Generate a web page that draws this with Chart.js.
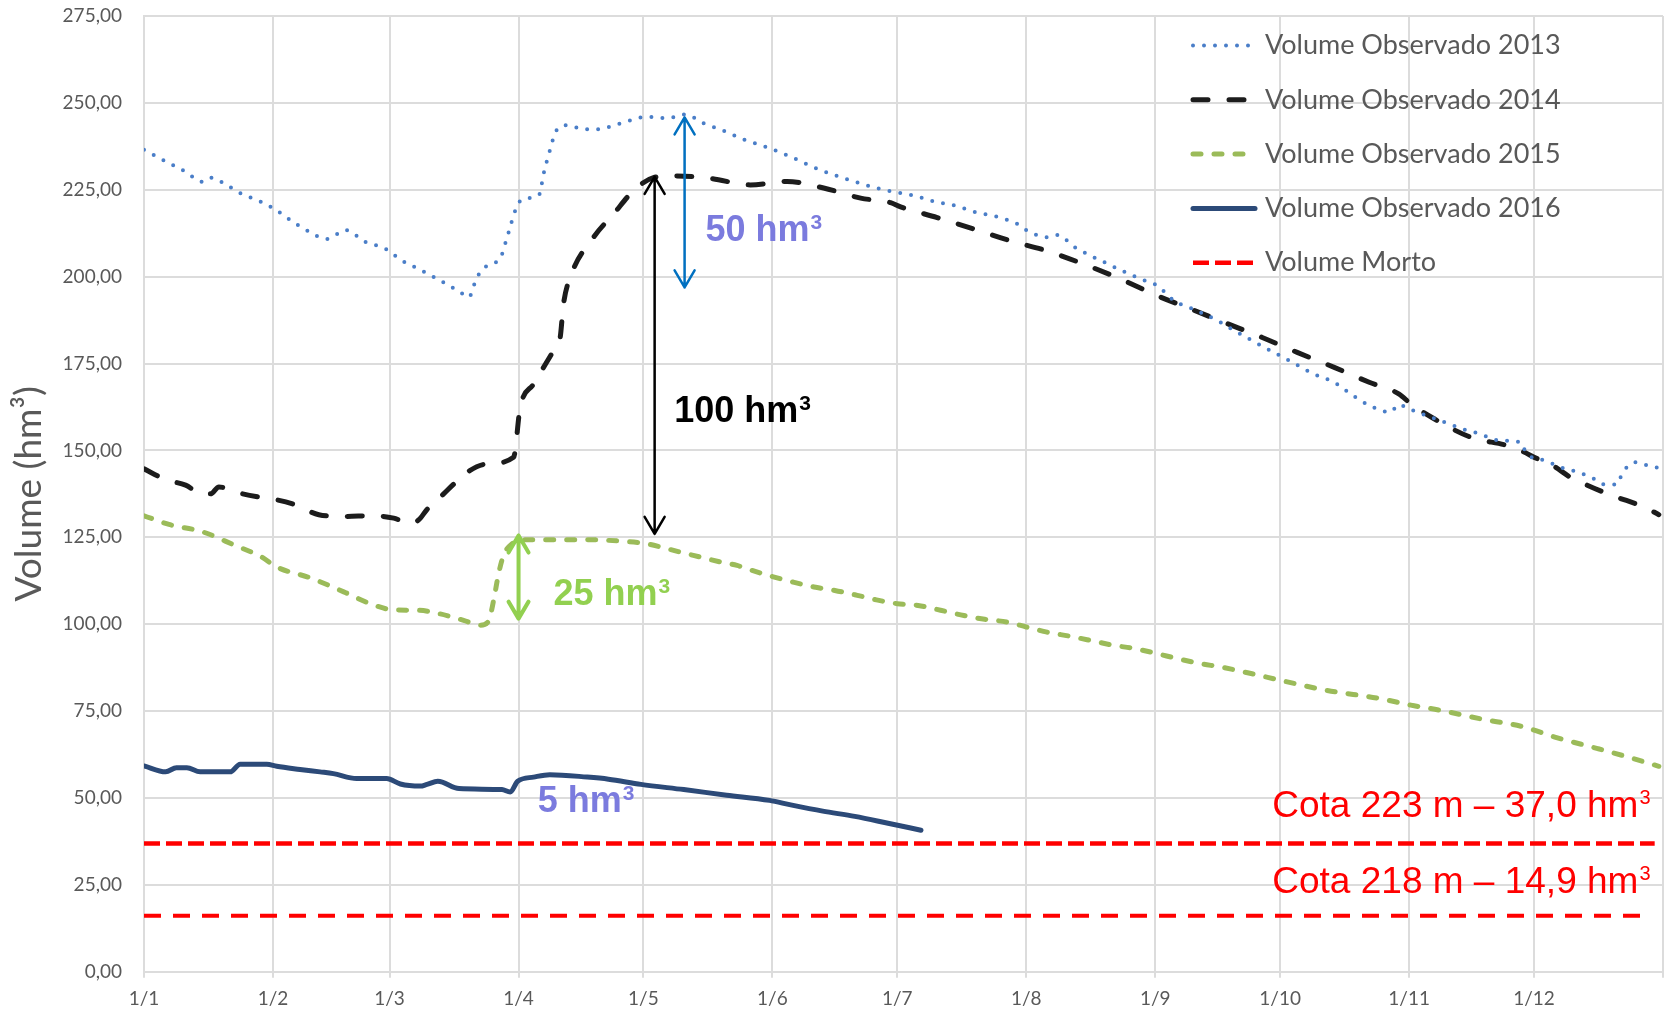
<!DOCTYPE html>
<html>
<head>
<meta charset="utf-8">
<script src="https://cdn.jsdelivr.net/npm/chart.js@4.4.1/dist/chart.umd.min.js"></script>
<style>
  html, body { margin: 0; padding: 0; background: #fff; }
  #wrap { width: 1675px; height: 1011px; position: relative; }
</style>
</head>
<body>
<div id="wrap"><canvas id="volumeChart"></canvas></div>
<script>
// x axis: day of the year, ticks at the first day of each month
const monthLabels = ['1/1', '1/2', '1/3', '1/4', '1/5', '1/6', '1/7', '1/8', '1/9', '1/10', '1/11', '1/12'];
const monthStartDays = [0, 31, 59, 90, 120, 151, 181, 212, 243, 273, 304, 334];
const yearEndDay = 365;

// Volume Observado 2013
const days2013 = [0, 5, 10, 14, 16, 19, 23, 28, 32, 35, 39, 44, 48.5, 53, 58, 62, 66, 71, 76, 78, 80, 83, 85.5, 87, 89.5, 91, 95, 96, 97.5, 99, 101.5, 106, 109, 114, 121, 126, 130, 134.5, 139, 144, 150, 155, 162, 169, 177, 185, 190, 195, 200, 205, 210, 212, 217, 219.5, 223.5, 227.5, 230, 235, 239.5, 243.5, 247.5, 253, 258, 262, 267, 271.5, 276, 281, 286, 290, 295, 299.5, 301.5, 304, 306, 313, 318, 321, 323, 326, 331, 332, 336.5, 341.5, 344, 348.5, 351, 354, 355, 356.5, 358.5, 361, 364];
const vol2013 = [236.5, 233.3, 230.2, 227.3, 228.5, 227, 224.1, 221.6, 219, 216.4, 213.4, 210.8, 213.4, 210.1, 208, 204.6, 202.2, 199, 195.5, 194, 199.8, 203.6, 205, 210.3, 219.9, 222.3, 223.7, 229.5, 236.2, 241.9, 243.6, 242.4, 242.4, 243.9, 246, 245.6, 246.7, 244.1, 242.1, 239.5, 237.1, 234.7, 230.9, 228, 225.2, 223.3, 221.6, 220.4, 218.5, 217.2, 215.1, 213.4, 211.3, 212, 208.6, 206, 204.6, 201.7, 199.3, 197.4, 193.1, 190.2, 187.3, 184.5, 181.1, 178.2, 175.3, 172, 169.6, 166.2, 162.6, 161, 163.2, 161.9, 161, 157.9, 155.7, 154.8, 153.8, 152.8, 152.3, 149.5, 147.1, 144.7, 144, 141.8, 140.2, 140.2, 142.8, 145.4, 146.6, 145.8, 144.9];

// Volume Observado 2014
const days2014 = [0, 5, 10, 14, 16, 18, 22, 28, 31, 36, 42, 48, 55, 60, 64, 66, 68, 72, 74.5, 78, 82.4, 88.8, 90.4, 93.6, 98.4, 100, 100.8, 102.4, 108, 112.8, 117.6, 122.4, 127.2, 136, 145.7, 154.5, 163.3, 172.2, 179.4, 181.8, 190.6, 199.4, 208.2, 217, 225.8, 234.7, 243.5, 251.5, 260.3, 268.7, 277.1, 286, 294.4, 301.6, 304.4, 310, 318.8, 327.6, 330, 335.7, 338, 343, 345.3, 351.7, 354, 360.5, 364];
const vol2014 = [144.7, 141.7, 140, 137.5, 137.5, 139.5, 138, 136.5, 136, 134.5, 131.5, 131, 131.2, 130.5, 129, 130, 133, 137.5, 140.4, 144, 146.1, 148, 162.4, 169.1, 178.7, 182.5, 192.1, 199.8, 211.3, 218, 224.7, 228.5, 229, 228.3, 226.4, 227.4, 225.5, 222.6, 221.3, 220.1, 217, 213.7, 210.3, 207.4, 203.6, 199.3, 194.5, 190.7, 186.5, 182.5, 178.2, 173.9, 169.6, 166.2, 163.4, 159.1, 153.8, 151.4, 150.4, 147.1, 146, 142.1, 140.8, 137.5, 136.5, 133.7, 131.5];

// Volume Observado 2015
const days2015 = [0, 6, 14, 22, 28, 32, 40, 48, 55, 60, 66, 71, 76.8, 80.8, 82.8, 84, 85.2, 86.4, 88.4, 92, 98, 106, 114.5, 121, 125.7, 132, 138.5, 142.5, 146, 151, 156, 161, 166, 171.4, 176, 181, 186, 191.4, 197, 202, 207.4, 212, 217, 222.6, 227.5, 233, 238, 243.5, 248.3, 254, 258.7, 266, 274, 284, 297, 304.4, 311.6, 321, 331.6, 339, 349.3, 356.5, 364];
const vol2015 = [131.2, 128.7, 126.6, 122.6, 119.5, 116.4, 113.3, 109.3, 105.6, 104.1, 104, 103, 101.1, 99.7, 100.9, 106.8, 114.5, 119.8, 123.1, 124.3, 124.3, 124.3, 123.9, 123.1, 121.7, 119.8, 117.9, 116.9, 115.5, 113.7, 112.1, 110.7, 109.7, 108.3, 107, 105.9, 105.4, 104, 102.5, 101.4, 100.6, 99.2, 97.7, 96.5, 95.3, 93.9, 93, 91.5, 90.1, 88.6, 87.7, 85.8, 83.6, 81, 78.6, 76.7, 75.2, 72.8, 70.4, 67.5, 64.2, 61.8, 59.1];

// Volume Observado 2016
const days2016 = [0, 5.2, 7.8, 10.3, 13.5, 20.7, 23.1, 29.5, 31.9, 37.5, 42.3, 45.5, 51.1, 58.3, 61.6, 66.4, 68, 70.6, 75.7, 86, 88, 89.8, 93.6, 97.5, 106.5, 111.6, 119.4, 129.7, 140, 150.3, 155.4, 163.1, 170.8, 178.5, 186.7];
const vol2016 = [59.2, 57.5, 58.7, 58.7, 57.5, 57.5, 59.7, 59.7, 59.1, 58.2, 57.5, 57, 55.6, 55.6, 54, 53.4, 53.9, 54.8, 52.7, 52.4, 51.7, 54.8, 56, 56.7, 56, 55.4, 53.9, 52.4, 50.8, 49.3, 48, 46.2, 44.7, 42.8, 40.7];

// Volume Morto (two reference levels)
const mortoDays = [0, 363];
const morto223 = [36.9, 36.9];
const morto218Days = [0, 362];
const morto218 = [16.1, 16.1];

// annotations, in data units (day, volume)
const arrowNotes = [
  { day: 129.9, from: 245.8, to: 196.9, color: '#0070c0', width: 2.5 },
  { day: 122.7, from: 228.7, to: 126.0, color: '#000000', width: 2.5 },
  { day: 90.0, from: 125.5, to: 101.6, color: '#92d050', width: 4 }
];
const boldNote = { font: 'bold 36px "Liberation Sans", Arial', supFont: 'bold 21px "Liberation Sans", Arial', rise: 12 };
const plainNote = { font: '37px "Liberation Sans", Arial', supFont: '20px "Liberation Sans", Arial', rise: 13 };
const textNotes = [
  { day: 134.9, value: 210.3, text: '50 hm', sup: '3', color: '#7b7bde', style: boldNote, align: 'left' },
  { day: 127.4, value: 158.1, text: '100 hm', sup: '3', color: '#000000', style: boldNote, align: 'left' },
  { day: 98.4, value: 105.4, text: '25 hm', sup: '3', color: '#92d050', style: boldNote, align: 'left' },
  { day: 94.6, value: 45.9, text: '5 hm', sup: '3', color: '#7b7bde', style: boldNote, align: 'left' },
  { day: 362, value: 44.6, text: 'Cota 223 m – 37,0 hm', sup: '3', color: '#ff0000', style: plainNote, align: 'right' },
  { day: 362, value: 22.7, text: 'Cota 218 m – 14,9 hm', sup: '3', color: '#ff0000', style: plainNote, align: 'right' }
];

function toPoints(days, vals) {
  return days.map((d, i) => ({ x: d, y: vals[i] }));
}

const gridColor = '#dcdcdc';
const labelColor = '#595959';

// arrows and text labels drawn over the lines
const notesPlugin = {
  id: 'notes',
  afterDatasetsDraw(chart) {
    const ctx = chart.ctx;
    const xs = chart.scales.x, ys = chart.scales.y;
    ctx.save();
    arrowNotes.forEach(a => {
      const x = xs.getPixelForValue(a.day);
      const y1 = ys.getPixelForValue(a.from);
      const y2 = ys.getPixelForValue(a.to);
      ctx.strokeStyle = a.color;
      ctx.lineWidth = a.width;
      ctx.lineCap = 'round';
      ctx.lineJoin = 'round';
      ctx.beginPath();
      ctx.moveTo(x, y1); ctx.lineTo(x, y2);
      // heads
      ctx.moveTo(x - 10, y1 + 17); ctx.lineTo(x, y1); ctx.lineTo(x + 10, y1 + 17);
      ctx.moveTo(x - 10, y2 - 17); ctx.lineTo(x, y2); ctx.lineTo(x + 10, y2 - 17);
      ctx.stroke();
    });
    textNotes.forEach(t => {
      ctx.textAlign = 'left';
      ctx.textBaseline = 'alphabetic';
      ctx.fillStyle = t.color;
      ctx.font = t.style.font;
      const mainW = ctx.measureText(t.text).width;
      ctx.font = t.style.supFont;
      const supW = ctx.measureText(t.sup).width;
      let x = xs.getPixelForValue(t.day);
      const y = ys.getPixelForValue(t.value);
      if (t.align === 'right') x -= mainW + supW + 1;
      ctx.font = t.style.font;
      ctx.fillText(t.text, x, y);
      ctx.font = t.style.supFont;
      ctx.fillText(t.sup, x + mainW + 1, y - t.style.rise);
    });
    ctx.restore();
  }
};

// legend drawn inside the plot, top right
const legendPlugin = {
  id: 'sideLegend',
  afterDraw(chart) {
    const ctx = chart.ctx;
    const left = 1193, sampleLen = 62, top = 45.5, gap = 54.3;
    ctx.save();
    let row = 0;
    chart.data.datasets.forEach(ds => {
      if (ds.hideInLegend) return;
      const y = top + row * gap;
      ctx.beginPath();
      ctx.strokeStyle = ds.borderColor;
      ctx.lineWidth = ds.borderWidth;
      ctx.lineCap = ds.borderCapStyle || 'butt';
      ctx.setLineDash(ds.borderDash || []);
      ctx.moveTo(left, y);
      ctx.lineTo(left + sampleLen, y);
      ctx.stroke();
      ctx.setLineDash([]);
      ctx.font = '27px Lato';
      ctx.fillStyle = labelColor;
      ctx.textAlign = 'left';
      ctx.textBaseline = 'middle';
      ctx.fillText(ds.label, left + sampleLen + 10, y);
      row++;
    });
    ctx.restore();
  }
};

const ctx = document.getElementById('volumeChart').getContext('2d');
new Chart(ctx, {
  type: 'line',
  data: {
    datasets: [
      {
        label: 'Volume Observado 2013',
        data: toPoints(days2013, vol2013),
        borderColor: '#4a7ec8',
        borderWidth: 4,
        borderDash: [0, 11],
        borderCapStyle: 'round'
      },
      {
        label: 'Volume Observado 2014',
        data: toPoints(days2014, vol2014),
        borderColor: '#1c1c1c',
        borderWidth: 5,
        borderDash: [15, 21],
        borderCapStyle: 'round'
      },
      {
        label: 'Volume Observado 2015',
        data: toPoints(days2015, vol2015),
        borderColor: '#9bbb59',
        borderWidth: 5,
        borderDash: [8, 13],
        borderCapStyle: 'round'
      },
      {
        label: 'Volume Observado 2016',
        data: toPoints(days2016, vol2016),
        borderColor: '#2c4a78',
        borderWidth: 5,
        borderCapStyle: 'round'
      },
      {
        label: 'Volume Morto',
        data: toPoints(mortoDays, morto223),
        borderColor: '#ff0000',
        borderWidth: 4.5,
        borderDash: [16, 6]
      },
      {
        label: 'Volume Morto 218',
        hideInLegend: true,
        data: toPoints(morto218Days, morto218),
        borderColor: '#ff0000',
        borderWidth: 4,
        borderDash: [17, 12]
      }
    ]
  },
  options: {
    responsive: true,
    maintainAspectRatio: false,
    animation: false,
    events: [],
    layout: { padding: { top: 16, right: 12, left: 0, bottom: 0 } },
    elements: {
      point: { radius: 0 },
      line: { cubicInterpolationMode: 'monotone', fill: false }
    },
    plugins: {
      legend: { display: false },
      tooltip: { enabled: false }
    },
    scales: {
      x: {
        type: 'linear',
        min: 0,
        max: yearEndDay,
        afterBuildTicks(scale) {
          scale.ticks = monthStartDays.concat([yearEndDay]).map(v => ({ value: v }));
        },
        afterFit(scale) { scale.height = 39.3; scale.paddingLeft = 0; scale.paddingRight = 0; },
        ticks: {
          autoSkip: false,
          maxRotation: 0,
          padding: 10,
          color: labelColor,
          font: { family: 'Lato', size: 19 },
          callback: (value, index) => monthLabels[index] || ''
        },
        grid: { color: gridColor, lineWidth: 2, tickLength: 6, tickColor: gridColor },
        border: { color: gridColor, width: 2 }
      },
      y: {
        min: 0,
        max: 275,
        afterFit(scale) { scale.width = 144; scale.paddingTop = 0; scale.paddingBottom = 0; },
        ticks: {
          stepSize: 25,
          padding: 22,
          color: labelColor,
          font: { family: 'Lato', size: 19 },
          callback: v => v.toFixed(2).replace('.', ',')
        },
        grid: { color: gridColor, lineWidth: 2, drawTicks: false },
        border: { color: gridColor, width: 2 },
        title: {
          display: true,
          text: 'Volume (hm³)',
          color: labelColor,
          font: { family: 'Lato', size: 37 },
          padding: { top: 7, bottom: 0 }
        }
      }
    }
  },
  plugins: [notesPlugin, legendPlugin]
});
</script>
</body>
</html>
